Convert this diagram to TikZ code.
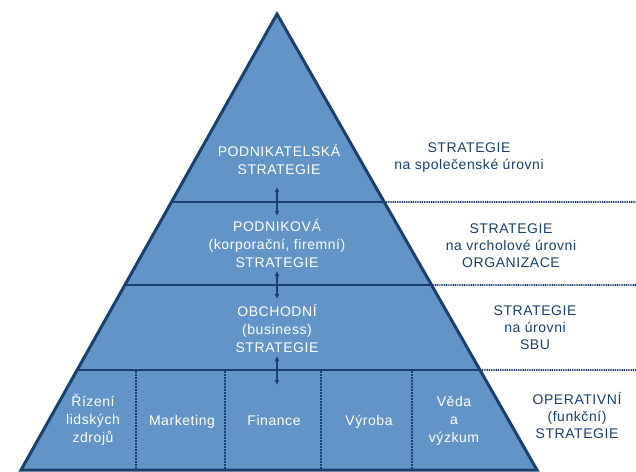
\documentclass[tikz,border=0pt]{standalone}
\usepackage{fontspec}
\newfontfamily\pyrfont[LetterSpace=4]{Liberation Sans}
\usetikzlibrary{arrows.meta}
\usetikzlibrary{calc}
\definecolor{pyrfill}{RGB}{99,148,199}
\definecolor{pyrline}{RGB}{27,63,110}
\tikzstyle{level} = [font=\pyrfont\fontsize{14}{18}\selectfont, text=white,
align=center, inner sep=0pt, anchor=base]
\tikzstyle{side} = [font=\pyrfont\fontsize{14}{17}\selectfont, text=pyrline,
align=center, inner sep=0pt, anchor=base]
\tikzstyle{link} = [draw=pyrline, line width=1.2pt,
{Latex[length=5pt,width=5pt]}-{Latex[length=5pt,width=5pt]}]

\begin{document}
\begin{tikzpicture}[x=1pt, y=-1pt,
	edge/.style={draw=pyrline, line width=3pt, line join=miter},
	rule/.style={draw=pyrline, line width=2.5pt},
	sep/.style={draw=pyrline, line width=1.5pt, dash pattern=on 1.5pt off 1.5pt},
	guide/.style={draw=pyrline, line width=1.8pt, dash pattern=on 1pt off 0.8pt}]
    \useasboundingbox (0,0) rectangle (636,471);
    \coordinate (top) at (277,14);
    \coordinate (bl) at (21,470);
    \coordinate (br) at (537,470);
    \fill [pyrfill] (top) -- (br) -- (bl) -- cycle;
	%% Levels
    \foreach \y/\n in {202/1, 285/2, 370/3} {
        \coordinate (l\n) at ($(top)!{(\y-14)/456}!(bl)$);
        \coordinate (r\n) at ($(top)!{(\y-14)/456}!(br)$);
        \coordinate (e\n) at (636,\y);
        \draw [guide] (r\n) -- (e\n);
        \draw [rule] (l\n) -- (r\n);
    }
    \foreach \x in {136,225,321,412}
        \draw [sep] (\x,371) -- (\x,470);
    \draw [edge] (top) -- (br) -- (bl) -- cycle;
	%% Pyramid texts
    \node [level] (T1) at (279,174) {PODNIKATELSKÁ\\STRATEGIE};
    \node [level] (T2) at (277,267) {PODNIKOVÁ\\(korporační, firemní)\\STRATEGIE};
    \node [level] (T3) at (277,352) {OBCHODNÍ\\(business)\\STRATEGIE};
    \node [level] (F1) at (93,442) {Řízení\\lidských\\zdrojů};
    \node [level] (F2) at (182,425) {Marketing};
    \node [level] (F3) at (274,425) {Finance};
    \node [level] (F4) at (369,425) {Výroba};
    \node [level] (F5) at (454,442) {Věda\\a\\výzkum};
	%% Side texts
    \node [side] (S1) at (469,169) {STRATEGIE\\na společenské úrovni};
    \node [side] (S2) at (511,267) {STRATEGIE\\na vrcholové úrovni\\ORGANIZACE};
    \node [side] (S3) at (535,349) {STRATEGIE\\na úrovni\\SBU};
    \node [side] (S4) at (577,438) {OPERATIVNÍ\\(funkční)\\STRATEGIE};
	%% Arrows
    \coordinate (up1) at (277,187); \coordinate (dn1) at (277,216);
    \coordinate (up2) at (277,271); \coordinate (dn2) at (277,299);
    \coordinate (up3) at (277,356); \coordinate (dn3) at (277,385);
    \path [link] (up1) to (dn1);
    \path [link] (up2) to (dn2);
    \path [link] (up3) to (dn3);
\end{tikzpicture}
\end{document}
